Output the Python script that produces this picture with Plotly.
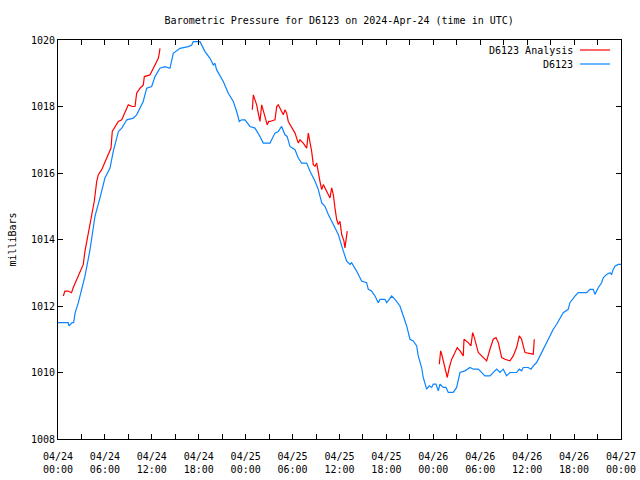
import pandas as pd
import plotly.graph_objects as go

START = pd.Timestamp("2024-04-24 00:00")

# D6123 observed pressure (hours since 04/24 00:00 UTC, mb)
obs_hours = [0.0, 1.3, 1.4, 1.8, 2.0, 2.2, 2.6, 3.45, 4.1, 4.73, 5.37, 6.0, 6.65, 7.07, 7.73,
             8.15, 8.8, 9.63, 10.06, 10.9, 11.34, 11.98, 12.4, 13.04, 13.68, 14.32, 14.74,
             15.6, 16.67, 17.1, 17.3, 18.16, 18.8, 19.44, 19.86, 20.07, 20.29, 21.14, 21.78,
             22.42, 22.85, 23.18, 23.49, 23.91, 24.55, 25.19, 25.83, 26.25, 27.11, 27.75,
             28.17, 28.6, 29.03, 29.3, 29.67, 30.31, 30.73, 31.16, 31.8, 32.23, 32.87, 33.29,
             33.73, 34.14, 34.57, 35.21, 35.85, 36.49, 36.92, 37.34, 37.55, 38.19, 38.83,
             39.47, 39.68, 40.1, 40.54, 40.96, 41.18, 41.82, 42.03, 42.36, 42.67, 43.1, 43.73,
             44.16, 44.59, 45.01, 45.43, 45.87, 46.07, 46.5, 46.71, 47.14, 47.48, 47.79, 48.0,
             48.34, 48.63, 48.85, 49.27, 49.62, 49.91, 50.55, 50.98, 51.41, 52.05, 52.69,
             53.11, 53.75, 54.18, 54.6, 55.24, 55.66, 56.1, 56.52, 56.94, 57.37, 57.8, 58.65,
             58.99, 59.29, 59.5, 60.14, 60.49, 60.78, 61.21, 61.64, 62.06, 62.49, 62.92,
             63.34, 63.77, 64.19, 64.61, 65.25, 65.47, 66.11, 66.53, 67.6, 68.03, 68.45,
             68.67, 69.09, 69.52, 69.73, 70.16, 70.59, 70.8, 71.01, 71.23, 71.65, 72.0]
obs_mb = [1011.5, 1011.5, 1011.4, 1011.5, 1011.5, 1011.8, 1012.1, 1012.9, 1013.7, 1014.7,
          1015.25, 1015.85, 1016.15, 1016.65, 1017.25, 1017.35, 1017.6, 1017.65, 1017.75,
          1018.15, 1018.55, 1018.6, 1018.9, 1019.15, 1019.2, 1019.15, 1019.6, 1019.75,
          1019.8, 1019.85, 1019.95, 1019.95, 1019.65, 1019.45, 1019.25, 1019.3, 1019.1,
          1018.75, 1018.4, 1018.15, 1017.85, 1017.55, 1017.6, 1017.6, 1017.4, 1017.35,
          1017.1, 1016.9, 1016.9, 1017.2, 1017.25, 1017.4, 1017.15, 1017.1, 1016.8, 1016.7,
          1016.45, 1016.3, 1016.3, 1016.05, 1015.75, 1015.5, 1015.1, 1015.0, 1014.75,
          1014.45, 1014.15, 1013.65, 1013.35, 1013.25, 1013.3, 1013.05, 1012.75, 1012.7,
          1012.5, 1012.45, 1012.3, 1012.1, 1012.2, 1012.2, 1012.1, 1012.2, 1012.3, 1012.2,
          1012.0, 1011.7, 1011.4, 1011.0, 1010.95, 1010.8, 1010.5, 1010.15, 1009.85, 1009.5,
          1009.6, 1009.55, 1009.65, 1009.65, 1009.45, 1009.65, 1009.55, 1009.55, 1009.4,
          1009.4, 1009.55, 1010.0, 1010.05, 1010.15, 1010.1, 1010.1, 1010.0, 1009.9, 1009.9,
          1010.0, 1010.1, 1010.0, 1010.1, 1009.9, 1010.0, 1010.0, 1010.1, 1010.05, 1010.15,
          1010.15, 1010.1, 1010.2, 1010.3, 1010.5, 1010.7, 1010.9, 1011.15, 1011.3, 1011.45,
          1011.65, 1011.8, 1011.9, 1012.1, 1012.3, 1012.4, 1012.4, 1012.5, 1012.5, 1012.35,
          1012.55, 1012.7, 1012.85, 1012.95, 1013.0, 1012.95, 1013.1, 1013.2, 1013.25,
          1013.25]

# D6123 Analysis, three separate runs
ana1_hours = [0.68, 0.88, 1.3, 1.73, 1.94, 2.37, 2.81, 3.23, 3.45, 3.87, 4.31, 4.64, 4.95,
              5.16, 5.59, 6.01, 6.43, 6.78, 6.94, 7.29, 7.71, 8.15, 8.57, 8.99, 9.5, 9.85,
              10.06, 10.49, 10.91, 11.04, 11.76, 12.19, 12.62, 12.83, 12.95, 13.04]
ana1_mb = [1012.3, 1012.45, 1012.45, 1012.4, 1012.55, 1012.8, 1013.05, 1013.25, 1013.65,
           1014.15, 1014.65, 1015.15, 1015.75, 1015.95, 1016.1, 1016.35, 1016.6, 1016.75,
           1017.25, 1017.4, 1017.55, 1017.6, 1017.8, 1018.05, 1018.0, 1018.0, 1018.4,
           1018.55, 1018.65, 1018.9, 1018.95, 1019.15, 1019.4, 1019.45, 1019.6, 1019.75]

ana2_hours = [24.85, 24.98, 25.19, 25.41, 25.61, 25.83, 26.05, 26.25, 26.47, 26.76, 26.94,
              27.11, 27.75, 27.97, 28.17, 28.6, 28.81, 29.03, 29.24, 29.45, 29.88, 30.31,
              30.73, 30.95, 31.37, 31.8, 32.01, 32.23, 32.44, 32.65, 32.87, 33.08, 33.29,
              33.5, 33.72, 33.93, 34.36, 34.78, 35.0, 35.21, 35.42, 35.64, 35.85, 36.06,
              36.28, 36.57, 36.7, 36.92, 36.99]
ana2_mb = [1017.9, 1018.35, 1018.2, 1018.05, 1017.8, 1017.55, 1018.05, 1017.9, 1017.7,
           1017.45, 1017.55, 1017.55, 1017.6, 1018.0, 1018.05, 1017.85, 1017.75, 1017.9,
           1017.8, 1017.55, 1017.35, 1017.2, 1016.9, 1017.0, 1016.9, 1016.75, 1017.2,
           1016.95, 1016.65, 1016.25, 1016.2, 1016.3, 1015.95, 1015.75, 1015.5, 1015.65,
           1015.45, 1015.25, 1015.55, 1015.35, 1014.95, 1014.6, 1014.45, 1014.55, 1014.15,
           1013.95, 1013.75, 1014.1, 1014.25]

ana3_hours = [48.76, 48.94, 49.07, 49.27, 49.49, 49.78, 50.04, 50.35, 50.77, 51.06, 51.41,
              51.83, 51.92, 52.47, 52.81, 53.03, 53.24, 53.54, 53.75, 54.18, 54.82, 55.24,
              55.66, 56.01, 56.31, 56.74, 57.16, 57.8, 58.22, 58.65, 58.99, 59.29, 59.72,
              60.78, 60.91]
ana3_mb = [1010.25, 1010.65, 1010.55, 1010.35, 1010.15, 1009.85, 1010.15, 1010.4, 1010.6,
           1010.75, 1010.65, 1010.5, 1011.0, 1010.9, 1010.8, 1011.2, 1011.05, 1010.8,
           1010.6, 1010.5, 1010.35, 1010.7, 1011.0, 1011.05, 1010.9, 1010.45, 1010.4,
           1010.35, 1010.5, 1010.75, 1011.1, 1011.0, 1010.6, 1010.55, 1011.0]

tick_hours = [0, 6, 12, 18, 24, 30, 36, 42, 48, 54, 60, 66, 72]
y_ticks = [1008, 1010, 1012, 1014, 1016, 1018, 1020]

RED = "#ff0000"
BLUE = "#0a84ff"
FONT = "DejaVu Sans Mono"


def to_time(hours):
    return list(START + pd.to_timedelta(hours, unit="h"))


# join analysis runs with gaps
ana_x, ana_y = [], []
for hrs, vals in [(ana1_hours, ana1_mb), (ana2_hours, ana2_mb), (ana3_hours, ana3_mb)]:
    ana_x += to_time(hrs) + [None]
    ana_y += vals + [None]

fig = go.Figure()
fig.add_trace(go.Scatter(x=to_time(obs_hours), y=obs_mb, mode="lines", name="D6123",
                         line=dict(color=BLUE, width=1.2)))
fig.add_trace(go.Scatter(x=ana_x, y=ana_y, mode="lines", name="D6123 Analysis",
                         line=dict(color=RED, width=1.2), connectgaps=False))

tick_times = to_time(tick_hours)
tick_text = [t.strftime("%m/%d<br>%H:%M") for t in tick_times]

fig.update_layout(
    width=640, height=480, autosize=False,
    margin=dict(l=58, r=19, t=40, b=41),
    paper_bgcolor="white", plot_bgcolor="white",
    showlegend=False,
    font=dict(family=FONT, size=10, color="black"),
    title=dict(text="Barometric Pressure for D6123 on 2024-Apr-24 (time in UTC)",
               x=0.53, xanchor="center", y=0.958, yanchor="middle",
               font=dict(family=FONT, size=10, color="black")),
    xaxis=dict(type="date", range=[tick_times[0], tick_times[-1]], automargin=False,
               tickvals=tick_times, ticktext=tick_text, ticklabelstandoff=8,
               showline=True, linecolor="black", linewidth=1, mirror="ticks",
               ticks="inside", ticklen=5, tickcolor="black", showgrid=False, zeroline=False,
               minor=dict(dtick=3 * 3600000, ticks="inside", ticklen=5, tickcolor="black",
                          showgrid=False),
               tickfont=dict(family=FONT, size=10)),
    yaxis=dict(range=[1008, 1020], tickvals=y_ticks, automargin=False,
               showline=True, linecolor="black", linewidth=1, mirror="ticks",
               ticks="inside", ticklen=5, tickcolor="black", showgrid=False, zeroline=False,
               title=dict(text="milliBars", standoff=12, font=dict(family=FONT, size=10)),
               tickfont=dict(family=FONT, size=10)),
)

# legend drawn gnuplot-style (text right-aligned, sample line to its right)
legend_items = [("D6123 Analysis", RED), ("D6123", BLUE)]
for i, (name, col) in enumerate(legend_items):
    ypix = 50 + i * 14
    yp = 1 - (ypix - 40) / 399
    fig.add_annotation(xref="paper", yref="paper", x=(575 - 58) / 563, y=yp,
                       text=name, showarrow=False, xanchor="right", yanchor="middle",
                       font=dict(family=FONT, size=10, color="black"))
    fig.add_shape(type="line", xref="paper", yref="paper",
                  x0=(580 - 58) / 563, x1=(610 - 58) / 563, y0=yp, y1=yp,
                  line=dict(color=col, width=1.2))

fig.write_html("out.html", config={"displayModeBar": False, "responsive": False},
               post_script="document.body.style.margin='0';")
